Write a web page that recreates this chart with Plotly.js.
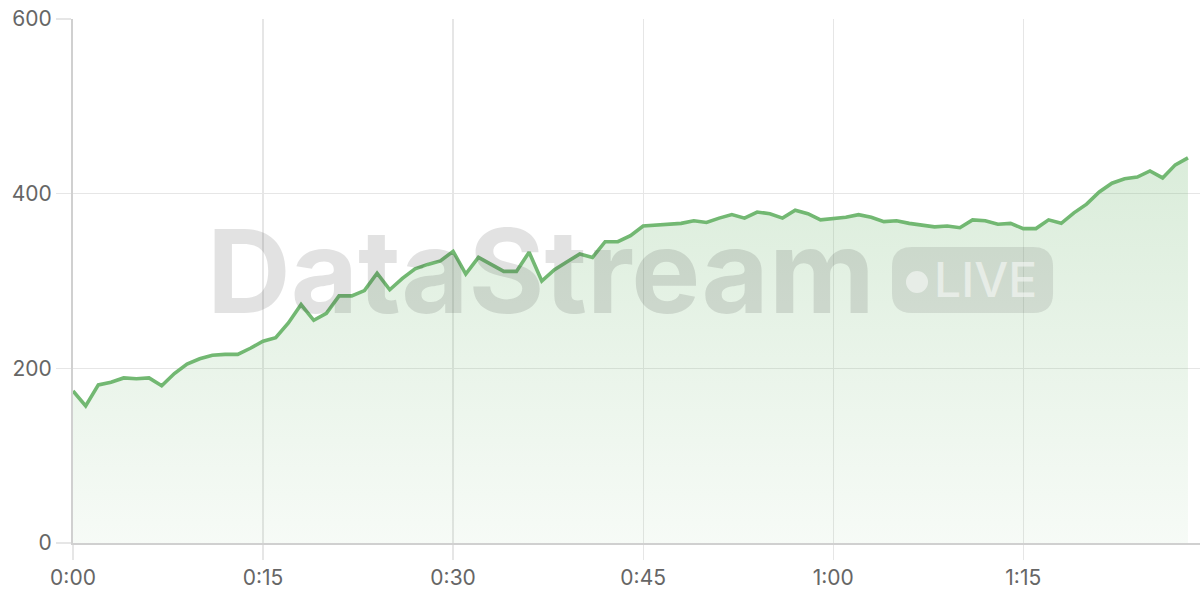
<!DOCTYPE html>
<html>
<head>
<meta charset="utf-8">
<script src="https://cdn.plot.ly/plotly-3.0.1.min.js"></script>
<style>
  html, body { margin: 0; padding: 0; background: #fff; }
  #chart { width: 1200px; height: 600px; }
</style>
</head>
<body>
<div id="chart"></div>
<script>
// minutes since start, one reading per minute
var minutes = [];
for (var i = 0; i <= 88; i++) minutes.push(i);

var values = [
  174, 157, 181, 184, 189, 188, 189, 180, 194, 205,
  211, 215, 216, 216, 223, 231, 235, 252, 273, 255,
  263, 283, 283, 289, 309, 290, 303, 314, 319, 323,
  334, 308, 327, 319, 311, 311, 333, 300, 313, 322,
  331, 327, 345, 345, 352, 363, 364, 365, 366, 369,
  367, 372, 376, 372, 379, 377, 372, 381, 377, 370,
  371, 373, 376, 373, 368, 369, 366, 364, 362, 363,
  361, 370, 369, 365, 366, 360, 360, 370, 366, 378,
  388, 402, 412, 417, 419, 426, 418, 433, 441
];

var tickVals = [0, 15, 30, 45, 60, 75];
var tickText = ["0:00", "0:15", "0:30", "0:45", "1:00", "1:15"];

var lineColor = "#72b872";

var data = [
  {
    type: "scatter",
    mode: "lines",
    x: minutes,
    y: values,
    line: { color: lineColor, width: 3.6 },
    fill: "tozeroy",
    fillgradient: {
      type: "vertical",
      colorscale: [
        [0, "rgba(114,184,114,0.06)"],
        [1, "rgba(114,184,114,0.26)"]
      ]
    },
    hoverinfo: "skip",
    showlegend: false
  }
];

// pill behind "LIVE", in paper units
var px0 = 0.7267, px1 = 0.8696, py0 = 0.4389, py1 = 0.5649, rx = 0.0177, ry = 0.0382;
var pillPath = "M " + (px0 + rx) + " " + py0 +
  " L " + (px1 - rx) + " " + py0 +
  " Q " + px1 + " " + py0 + " " + px1 + " " + (py0 + ry) +
  " L " + px1 + " " + (py1 - ry) +
  " Q " + px1 + " " + py1 + " " + (px1 - rx) + " " + py1 +
  " L " + (px0 + rx) + " " + py1 +
  " Q " + px0 + " " + py1 + " " + px0 + " " + (py1 - ry) +
  " L " + px0 + " " + (py0 + ry) +
  " Q " + px0 + " " + py0 + " " + (px0 + rx) + " " + py0 + " Z";

var layout = {
  width: 1200,
  height: 600,
  margin: { l: 73, r: 0, t: 19, b: 57 },
  paper_bgcolor: "#fff",
  plot_bgcolor: "#fff",
  font: { family: "Inter, 'Open Sans', sans-serif", color: "#666", size: 21 },
  xaxis: {
    range: [0, 88.95],
    tickvals: tickVals,
    ticktext: tickText,
    showgrid: true,
    gridcolor: "#e6e6e6",
    gridwidth: 1.3,
    zeroline: false,
    showline: true,
    linecolor: "#d0d0d0",
    linewidth: 2,
    ticks: "outside",
    ticklen: 15,
    tickcolor: "#e6e6e6",
    tickwidth: 1.3,
    tickfont: { size: 21, color: "#666" }
  },
  yaxis: {
    range: [0, 600],
    tickvals: [0, 200, 400, 600],
    showgrid: true,
    gridcolor: "#e6e6e6",
    gridwidth: 1.3,
    zeroline: false,
    showline: true,
    linecolor: "#d0d0d0",
    linewidth: 2,
    ticks: "outside",
    ticklen: 15,
    tickcolor: "#e6e6e6",
    tickwidth: 1.3,
    tickfont: { size: 21, color: "#666" }
  },
  shapes: [
    {
      type: "path",
      xref: "paper", yref: "paper",
      path: pillPath,
      fillcolor: "rgba(60,60,60,0.12)",
      line: { width: 0 },
      layer: "above"
    },
    {
      type: "circle",
      xref: "paper", yref: "paper",
      x0: 0.7391, x1: 0.7587, y0: 0.4771, y1: 0.5191,
      fillcolor: "rgba(255,255,255,0.5)",
      line: { width: 0 },
      layer: "above"
    }
  ],
  annotations: [
    {
      xref: "paper", yref: "paper",
      x: 0.415, y: 0.519,
      xanchor: "center", yanchor: "middle",
      text: "<b>DataStream</b>",
      showarrow: false,
      font: { family: "Inter, 'Open Sans', sans-serif", size: 116, color: "rgba(60,60,60,0.15)" }
    },
    {
      xref: "paper", yref: "paper",
      x: 0.8097, y: 0.503,
      xanchor: "center", yanchor: "middle",
      text: "LIVE",
      showarrow: false,
      font: { family: "Inter, 'Open Sans', sans-serif", size: 48, color: "rgba(255,255,255,0.5)", weight: 500 }
    }
  ]
};

Plotly.newPlot("chart", data, layout, { displayModeBar: false, staticPlot: true });
</script>
</body>
</html>
